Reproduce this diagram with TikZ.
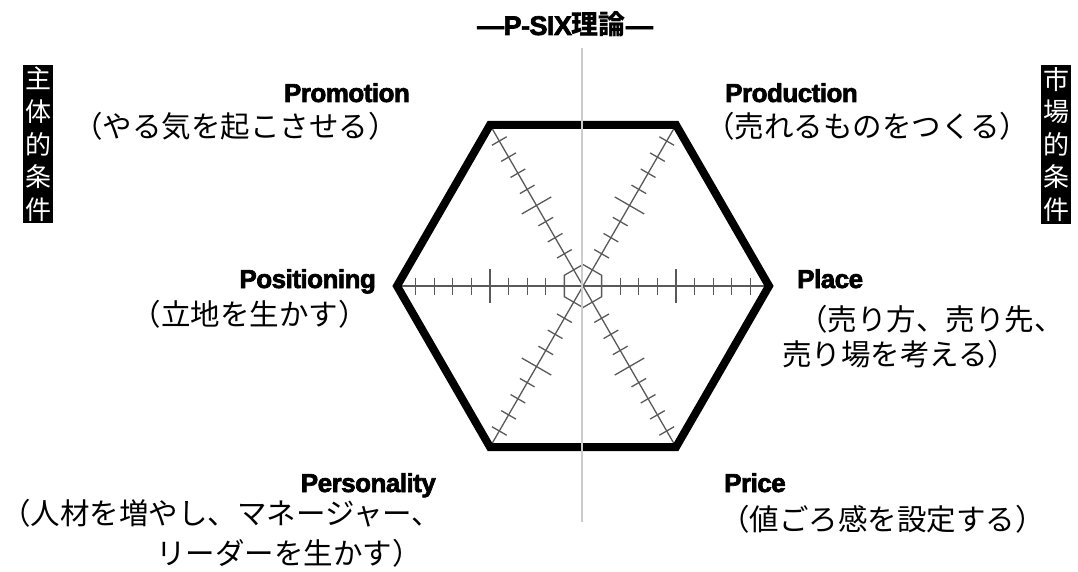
\documentclass[tikz,border=0pt]{standalone}
\usepackage{fontspec}
\setmainfont{Liberation Sans}
\newfontfamily\jpfont{Noto Sans CJK JP}
\newfontfamily\heavyfont{Liberation Sans Bold}[FakeBold=2.5,LetterSpace=-2]
\usetikzlibrary{calc}
\begin{document}
\begin{tikzpicture}[x=1pt,y=-1pt,
  hexline/.style={line width=8pt, black, line join=miter},
  axis/.style={line width=1.3pt, black!65},
  vline/.style={line width=1.5pt, black!20},
  en/.style={font=\heavyfont\fontsize{26}{30}\selectfont, inner sep=0pt},
  jp/.style={font=\jpfont\fontsize{29.5}{34}\selectfont, inner sep=0pt},
  ttl/.style={font=\heavyfont\fontsize{27}{30}\selectfont, inner sep=0pt},
  vlabel/.style={fill=black, text=white, font=\jpfont\fontsize{26}{32.6}\selectfont, align=center, inner xsep=2pt, inner ysep=2pt, minimum width=30pt}
]
\useasboundingbox (0,0) rectangle (1078,572);
\coordinate (C) at (583,286);
\foreach \i/\a in {0/0,1/60,2/120,3/180,4/240,5/300}
  \coordinate (v\i) at ($(C)+(\a:186)$);
% axes
\foreach \i/\j in {0/3,1/4,2/5}
  \draw[axis] (v\i) -- (v\j);
% ticks
\foreach \i/\j in {0/3,1/4,2/5,3/0,4/1,5/2}
  \foreach \k in {1,...,8} {
    \pgfmathsetmacro\t{\k/20}
    \pgfmathsetmacro\h{\k==5 ? 17 : 8.5}
    \coordinate (p) at ($(v\i)!\t!(v\j)$);
    \draw[axis] ($(p)!\h pt!90:(v\j)$) -- ($(p)!\h pt!-90:(v\j)$);
  }
% inner hexagon
\draw[axis] ($(C)+(30:21.5)$) \foreach \a in {90,150,210,270,330} { -- ($(C)+(\a:21.5)$) } -- cycle;
% outer hexagon
\draw[hexline] (v0) -- (v1) -- (v2) -- (v3) -- (v4) -- (v5) -- cycle;
% vertical line
\coordinate (vt) at (582,48);
\coordinate (vb) at (582,522);
\draw[vline] (vt) -- (vb);
% title
\node[ttl, anchor=base] (title) at (565,35) {—P-SIX{\jpfont\bfseries 理論}—};
% labels
\node[en, anchor=base east] (promo) at (410,102) {Promotion};
\node[jp, anchor=base east] (promoj) at (398,138) {（やる気を起こさせる）};
\node[en, anchor=base west] (prod) at (725,102) {Production};
\node[jp, anchor=base west] (prodj) at (705,138) {（売れるものをつくる）};
\node[en, anchor=base east] (posi) at (376,288) {Positioning};
\node[jp, anchor=base east] (posij) at (368,325) {（立地を生かす）};
\node[en, anchor=base west] (place) at (797,288) {Place};
\node[jp, anchor=base west] (placej1) at (798,330) {（売り方、売り先、};
\node[jp, anchor=base west] (placej2) at (782,365) {売り場を考える）};
\node[en, anchor=base east] (pers) at (436,492) {Personality};
\node[jp, anchor=base west] (persj1) at (1,524) {（人材を増やし、マネージャー、};
\node[jp, anchor=base east] (persj2) at (422,564) {リーダーを生かす）};
\node[en, anchor=base west] (price) at (724,492) {Price};
\node[jp, anchor=base west] (pricej) at (720,530) {（値ごろ感を設定する）};
% side labels
\node[vlabel, anchor=north] (lbl) at (38,65) {主\\体\\的\\条\\件};
\node[vlabel, anchor=north] (rbl) at (1056,65) {市\\場\\的\\条\\件};
\end{tikzpicture}
\end{document}
